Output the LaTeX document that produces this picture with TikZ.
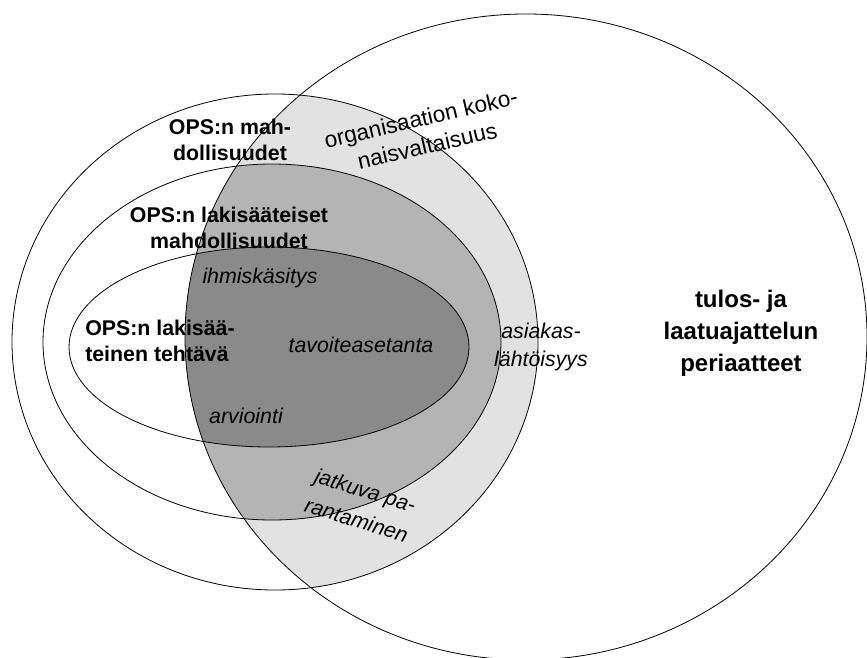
\documentclass[tikz,border=0pt]{standalone}
\usepackage{fontspec}
\setmainfont{Liberation Sans}
\usepackage{tikz}
\definecolor{shadelight}{RGB}{226,226,226}
\definecolor{shademid}{RGB}{180,180,180}
\definecolor{shadedark}{RGB}{138,138,138}
\tikzstyle{area_line} = [draw, line width=0.6pt]
\tikzstyle{label_bold} = [font=\fontsize{16}{19}\selectfont\bfseries, align=center, inner sep=0pt]
\tikzstyle{label_italic} = [font=\fontsize{16}{21}\selectfont\itshape, align=center, inner sep=0pt]
\tikzstyle{label_plain} = [font=\fontsize{17}{21}\selectfont, align=center, inner sep=0pt]
\tikzstyle{label_big} = [font=\fontsize{18}{24}\selectfont\bfseries, align=center, inner sep=0pt]

\begin{document}
\begin{tikzpicture}[x=0.75pt, y=-0.75pt]
		\useasboundingbox (0,0) rectangle (867,657);
		% shaded overlaps inside the big circle
		\begin{scope}
			\clip (526,337) ellipse [x radius=255.75pt, y radius=242.25pt];
			\fill[shadelight] (275,342) ellipse [x radius=197.25pt, y radius=186pt];
			\fill[shademid] (272,342) ellipse [x radius=171.75pt, y radius=133.5pt];
			\fill[shadedark] (269,347) ellipse [x radius=150pt, y radius=75pt];
		\end{scope}
		\draw[area_line] (275,342) ellipse [x radius=197.25pt, y radius=186pt];
		\draw[area_line] (272,342) ellipse [x radius=171.75pt, y radius=133.5pt];
		\draw[area_line] (269,347) ellipse [x radius=150pt, y radius=75pt];
		\draw[area_line] (526,337) ellipse [x radius=255.75pt, y radius=242.25pt];
		
		\node (mahd) at (230,140) [label_bold] {OPS:n mah-\\dollisuudet};
		\node (koko) at (424,132) [label_plain, rotate=13] {organisaation koko-\\naisvaltaisuus};
		\node (laki) at (229,228) [label_bold] {OPS:n lakisääteiset\\mahdollisuudet};
		\node (ihmis) at (260,278) [label_italic] {ihmiskäsitys};
		\node (tehtava) at (85,341) [label_bold, anchor=west, align=left] {OPS:n lakisää-\\teinen tehtävä};
		\node (tavoite) at (361,345) [label_italic] {tavoiteasetanta};
		\node (arvio) at (246,416) [label_italic] {arviointi};
		\node (asiakas) at (541,347) [label_italic] {asiakas-\\lähtöisyys};
		\node (jatkuva) at (361,505) [label_italic, rotate=-17, font=\fontsize{16}{23}\selectfont\itshape] {jatkuva pa-\\rantaminen};
		\node (tulos) at (741,333) [label_big] {tulos- ja\\laatuajattelun\\periaatteet};
\end{tikzpicture}
\end{document}
